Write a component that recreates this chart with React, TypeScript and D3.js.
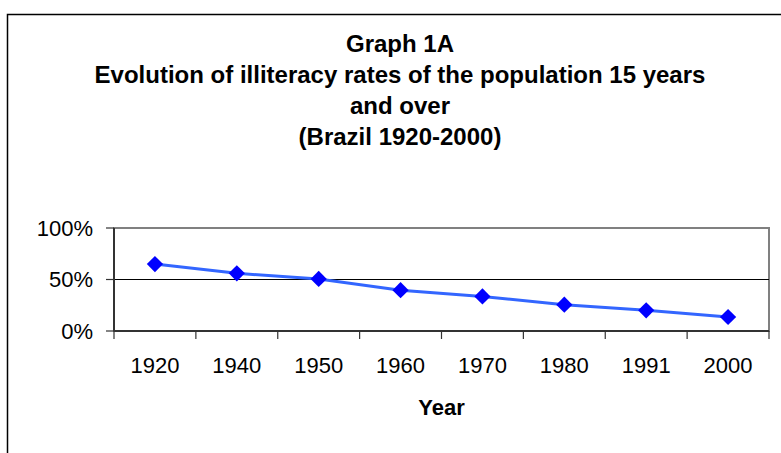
import React from "react";
import * as d3 from "d3";

const years: string[] = ["1920", "1940", "1950", "1960", "1970", "1980", "1991", "2000"];
const rates: number[] = [0.65, 0.56, 0.505, 0.396, 0.336, 0.255, 0.201, 0.136];
const yTicks: number[] = [0, 0.5, 1];
const titleLines: string[] = [
  "Graph 1A",
  "Evolution of illiteracy rates of the population 15 years",
  "and over",
  "(Brazil 1920-2000)",
];
const xTitle = "Year";

const W = 781;
const H = 453;
const plot = { left: 114, right: 769, top: 228, bottom: 331 };
const FONT = "'Liberation Sans', Arial, Helvetica, sans-serif";

export default function App() {
  const x = d3.scaleBand<string>().domain(years).range([plot.left, plot.right]).padding(0);
  const y = d3.scaleLinear().domain([0, 1]).range([plot.bottom, plot.top]);
  const fmt = d3.format(".0%");

  const line = d3
    .line<number>()
    .x((_, i) => (x(years[i]) as number) + x.bandwidth() / 2)
    .y((d) => y(d));

  const diamond = d3.symbol().type(d3.symbolDiamond2).size(168)() as string;

  const tickXs = [...years.map((yr) => x(yr) as number), plot.right];

  return (
    <svg
      width={W}
      height={H}
      style={{ position: "absolute", left: 0, top: 0, background: "#fff" }}
      fontFamily={FONT}
    >
      <rect x={0} y={0} width={W} height={H} fill="#fff" />
      {/* outer frame */}
      <rect x={7.5} y={14.5} width={900} height={600} fill="none" stroke="#000" strokeWidth={1.5} />

      {/* title */}
      {titleLines.map((t, i) => (
        <text
          key={i}
          x={400}
          y={52 + i * 31}
          textAnchor="middle"
          fontSize={24}
          fontWeight="bold"
          fill="#000"
        >
          {t}
        </text>
      ))}

      {/* plot frame */}
      <rect
        x={plot.left}
        y={plot.top}
        width={plot.right - plot.left}
        height={plot.bottom - plot.top}
        fill="#fff"
        stroke="#808080"
        strokeWidth={2}
      />
      {/* gridlines */}
      {yTicks
        .filter((t) => t > 0 && t < 1)
        .map((t) => (
          <line key={t} x1={plot.left} x2={plot.right} y1={y(t)} y2={y(t)} stroke="#000" strokeWidth={1} />
        ))}

      {/* y axis */}
      <line x1={plot.left} x2={plot.left} y1={plot.top} y2={plot.bottom} stroke="#333" strokeWidth={2} />
      {yTicks.map((t) => (
        <g key={t}>
          <line x1={plot.left - 8} x2={plot.left} y1={y(t)} y2={y(t)} stroke="#333" strokeWidth={1.2} />
          <text x={93} y={y(t)} dy="0.36em" textAnchor="end" fontSize={22} fill="#000">
            {fmt(t)}
          </text>
        </g>
      ))}

      {/* x axis */}
      <line x1={plot.left} x2={plot.right} y1={plot.bottom} y2={plot.bottom} stroke="#333" strokeWidth={2} />
      {tickXs.map((tx, i) => (
        <line key={i} x1={tx} x2={tx} y1={plot.bottom} y2={plot.bottom + 8} stroke="#333" strokeWidth={1.2} />
      ))}
      {years.map((yr) => (
        <text
          key={yr}
          x={(x(yr) as number) + x.bandwidth() / 2}
          y={373}
          textAnchor="middle"
          fontSize={22}
          fill="#000"
        >
          {yr}
        </text>
      ))}
      <text x={(plot.left + plot.right) / 2} y={415} textAnchor="middle" fontSize={22} fontWeight="bold" fill="#000">
        {xTitle}
      </text>

      {/* series */}
      <path d={line(rates) as string} fill="none" stroke="#3366FF" strokeWidth={3} />
      {rates.map((r, i) => (
        <path
          key={i}
          d={diamond}
          transform={`translate(${(x(years[i]) as number) + x.bandwidth() / 2},${y(r)})`}
          fill="#0000FF"
        />
      ))}
    </svg>
  );
}
